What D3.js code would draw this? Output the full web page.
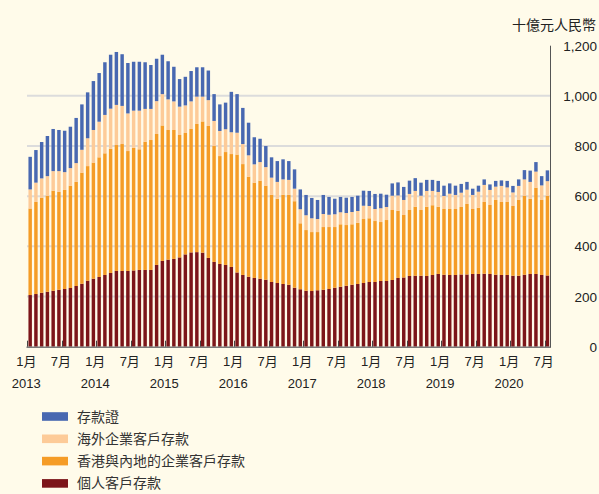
<!DOCTYPE html>
<html>
<head>
<meta charset="utf-8">
<script src="https://d3js.org/d3.v7.min.js"></script>
<style>
  body { margin: 0; background: #fffbea; }
  svg { display: block; }
  text { font-family: "Liberation Sans", Arial, "Noto Sans CJK TC", sans-serif; fill: #222; }
</style>
</head>
<body>
<svg id="chart"></svg>
<script>
  // months Jan 2013 .. Jul 2020
  const years = [2013, 2014, 2015, 2016, 2017, 2018, 2019, 2020];
  const months = [];
  years.forEach(y => {
    for (let m = 1; m <= 12; m++) {
      if (y === 2020 && m > 7) break;
      months.push(y + "-" + m);
    }
  });

  // 十億元人民幣
  const personal = [206, 210, 215, 219, 223, 227, 230, 234, 242, 251, 263, 271,
    278, 286, 294, 302, 302, 302, 304, 306, 306, 306, 326, 342,
    347, 350, 356, 368, 376, 377, 375, 354, 338, 330, 326, 318,
    296, 286, 279, 274, 271, 267, 258, 254, 250, 247, 235, 229,
    223, 222, 225, 227, 230, 235, 239, 243, 247, 250, 254, 258,
    258, 262, 262, 266, 274, 276, 282, 283, 283, 282, 286, 290,
    287, 286, 286, 288, 288, 290, 290, 291, 290, 287, 286, 286,
    283, 283, 287, 290, 290, 286, 284];
  const hkCorp = [345, 367, 379, 383, 399, 390, 395, 408, 415, 443, 457, 463,
    477, 485, 495, 502, 506, 478, 489, 481, 511, 518, 522, 540,
    517, 514, 488, 484, 492, 511, 523, 526, 462, 430, 450, 450,
    470, 442, 399, 380, 391, 375, 348, 336, 356, 359, 345, 263,
    242, 235, 232, 250, 247, 242, 249, 242, 241, 244, 255, 254,
    243, 235, 243, 279, 268, 249, 263, 275, 262, 276, 278, 268,
    262, 263, 263, 269, 281, 259, 264, 286, 275, 298, 291, 291,
    278, 302, 315, 300, 344, 299, 318];
  const overseasCorp = [76, 77, 77, 78, 78, 83, 71, 70, 75, 91, 111, 130,
    142, 153, 160, 160, 152, 150, 148, 154, 131, 124, 131, 125,
    122, 114, 113, 110, 110, 109, 99, 103, 100, 100, 91, 87,
    87, 80, 85, 73, 74, 74, 68, 67, 61, 59, 50, 56,
    59, 55, 52, 52, 49, 51, 48, 48, 49, 47, 53, 49,
    48, 55, 52, 57, 61, 60, 64, 63, 57, 63, 57, 59,
    52, 61, 56, 57, 57, 56, 64, 68, 60, 53, 64, 58,
    54, 56, 65, 67, 64, 58, 58];
  const cds = [130, 130, 145, 160, 168, 164, 165, 165, 180, 181, 183, 195,
    194, 210, 215, 211, 206, 201, 195, 195, 186, 175, 169, 157,
    152, 138, 110, 114, 121, 117, 117, 118, 107, 106, 106, 161,
    154, 144, 130, 108, 93, 84, 81, 83, 80, 75, 77, 79,
    81, 81, 76, 76, 71, 62, 61, 61, 60, 61, 60, 60,
    60, 58, 49, 49, 52, 52, 53, 51, 52, 44, 44, 44,
    41, 41, 37, 35, 31, 25, 24, 22, 22, 23, 22, 26,
    26, 26, 37, 45, 38, 37, 43];

  const seriesKeys = ["personal", "hkCorp", "overseasCorp", "cds"];
  const seriesNames = {
    cds: "存款證",
    overseasCorp: "海外企業客戶存款",
    hkCorp: "香港與內地的企業客戶存款",
    personal: "個人客戶存款"
  };
  const colors = {
    personal: "#7c1519",
    hkCorp: "#f59c26",
    overseasCorp: "#fdcb98",
    cds: "#4868b1"
  };
  const yTicks = [0, 200, 400, 600, 800, 1000, 1200];

  const table = months.map((m, i) => ({
    month: m,
    personal: personal[i],
    hkCorp: hkCorp[i],
    overseasCorp: overseasCorp[i],
    cds: cds[i]
  }));

  const width = 599, height = 494;
  const svg = d3.select("#chart").attr("width", width).attr("height", height);

  const x = d3.scaleBand()
    .domain(months)
    .range([27.3, 550.3])
    .paddingInner(0.4)
    .paddingOuter(0.2);

  const y = d3.scaleLinear().domain([0, 1200]).range([346.7, 45.7]);

  // gridlines
  svg.append("g")
    .selectAll("line")
    .data(yTicks.filter(t => t > 0 && t < 1200))
    .enter()
    .append("line")
    .attr("x1", 27)
    .attr("x2", 550)
    .attr("y1", d => y(d))
    .attr("y2", d => y(d))
    .attr("stroke", "#dcdcdc")
    .attr("stroke-width", 2);

  // stacked bars
  const stacked = d3.stack().keys(seriesKeys)(table);
  svg.append("g")
    .selectAll("g")
    .data(stacked)
    .enter()
    .append("g")
    .attr("fill", d => colors[d.key])
    .selectAll("rect")
    .data(d => d)
    .enter()
    .append("rect")
    .attr("x", d => x(d.data.month))
    .attr("width", x.bandwidth())
    .attr("y", d => y(d[1]))
    .attr("height", d => y(d[0]) - y(d[1]));

  // bottom axis line
  svg.append("line")
    .attr("x1", 26.5).attr("x2", 550.5)
    .attr("y1", y(0) + 0.5).attr("y2", y(0) + 0.5)
    .attr("stroke", "#7a7a7a")
    .attr("stroke-width", 1.5);

  // right axis line
  svg.append("line")
    .attr("x1", 550.5).attr("x2", 550.5)
    .attr("y1", y(1200)).attr("y2", y(0) + 1)
    .attr("stroke", "#555")
    .attr("stroke-width", 1);

  // x ticks + labels every 6 months
  const tickMonths = months.filter((m, i) => i % 6 === 0);
  const tickX = m => x(m) + x.bandwidth() / 2 - x.step() / 2;

  svg.append("g")
    .selectAll("line")
    .data(tickMonths)
    .enter()
    .append("line")
    .attr("x1", d => Math.round(tickX(d)) + 0.5)
    .attr("x2", d => Math.round(tickX(d)) + 0.5)
    .attr("y1", y(0) - 6)
    .attr("y2", y(0))
    .attr("stroke", "#444")
    .attr("stroke-width", 1);

  svg.append("g")
    .selectAll("text")
    .data(tickMonths)
    .enter()
    .append("text")
    .attr("x", d => tickX(d) - 1)
    .attr("y", 366)
    .attr("text-anchor", "middle")
    .attr("font-size", 13)
    .text(d => d.split("-")[1] + "月");

  svg.append("g")
    .selectAll("text")
    .data(tickMonths.filter(m => m.endsWith("-1")))
    .enter()
    .append("text")
    .attr("x", d => tickX(d) - 1)
    .attr("y", 388)
    .attr("text-anchor", "middle")
    .attr("font-size", 13)
    .text(d => d.split("-")[0]);

  // y labels on the right
  svg.append("g")
    .selectAll("text")
    .data(yTicks)
    .enter()
    .append("text")
    .attr("x", 597)
    .attr("y", d => y(d) + 5)
    .attr("text-anchor", "end")
    .attr("font-size", 13.5)
    .text(d => d3.format(",")(d));

  svg.append("text")
    .attr("x", 596)
    .attr("y", 30)
    .attr("text-anchor", "end")
    .attr("font-size", 14)
    .text("十億元人民幣");

  // legend
  const legendKeys = ["cds", "overseasCorp", "hkCorp", "personal"];
  const legend = svg.append("g")
    .selectAll("g")
    .data(legendKeys)
    .enter()
    .append("g")
    .attr("transform", (d, i) => `translate(42, ${416.5 + i * 22.3})`);

  legend.append("rect")
    .attr("x", 0)
    .attr("y", -4.3)
    .attr("width", 26)
    .attr("height", 8.6)
    .attr("fill", d => colors[d]);

  legend.append("text")
    .attr("x", 35)
    .attr("y", 5)
    .attr("font-size", 14)
    .style("fill", "#333")
    .text(d => seriesNames[d]);
</script>
</body>
</html>
